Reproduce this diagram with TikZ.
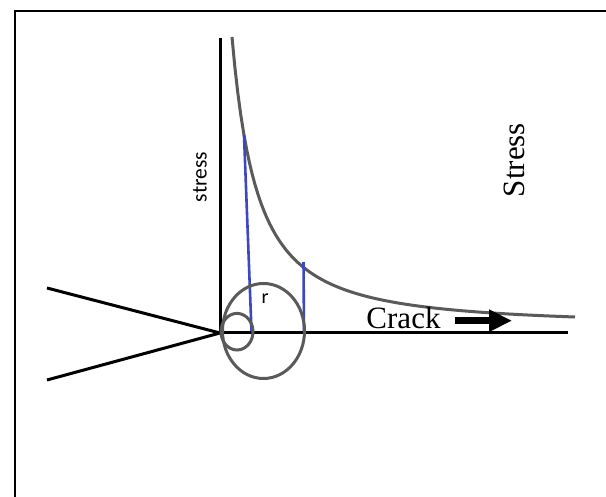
\documentclass[tikz,border=0pt]{standalone}
\usepackage{fontspec}
\usepackage{tikz}
\usetikzlibrary{positioning, arrows.meta, calc}
\setmainfont{Liberation Serif}
\newfontfamily\labelfont{Carlito}
\definecolor{cAxis}  {HTML}{000000}
\definecolor{cCurve} {HTML}{5A5A5A}
\definecolor{cRadius}{HTML}{3E46C2}

\begin{document}
\begin{tikzpicture}[x=1pt, y=-1pt,
    axisline/.style={draw=cAxis, line width=3pt},
    stresscurve/.style={draw=cCurve, line width=3pt},
    zone/.style={draw=cCurve, line width=3pt},
    radius line/.style={draw=cRadius, line width=2.6pt},
    bigtext/.style={font=\fontsize{31}{36}\selectfont, inner sep=0pt},
    smalltext/.style={font=\labelfont\fontsize{21.5}{26}\selectfont, inner sep=0pt}]
  \useasboundingbox (0,0) rectangle (606,497);
  % frame
  \draw[line width=2.5pt] (15,497) -- (15,11) -- (606,11);

  % crack tip and flanks
  \coordinate (tip) at (220,333);
  \coordinate (ytop) at (220,38);
  \coordinate (xend) at (568,333);
  \coordinate (flankU) at (47,288);
  \coordinate (flankL) at (47,380);
  \draw[axisline] (flankU) -- (tip) -- (flankL);
  \draw[axisline] (ytop) -- (tip) -- (xend);

  % stress field
  \draw[stresscurve] plot[domain=232:575, samples=120]
    (\x, {326 - 66.9/(((\x-194.3)/100)^1.5)});

  % radius lines
  \coordinate (rAtop) at (244,135);
  \coordinate (rAfoot) at (251.5,331);
  \coordinate (rBtop) at (303.5,262);
  \coordinate (rBfoot) at (304,331);
  \foreach \r in {A, B}
    \draw[radius line] (r\r top) -- (r\r foot);

  \draw[zone] (263.5,331) ellipse [x radius=41pt, y radius=47.5pt];
  \draw[zone] (237,331.7) ellipse [x radius=16pt, y radius=18.3pt];

  \node[smalltext, rotate=90] (axislab) at (200,177) {stress};
  \node[smalltext, font=\labelfont\fontsize{20}{24}\selectfont] (rlab) at (265,299) {r};
  \node[bigtext, rotate=90] (stresslab) at (514,160) {Stress};
  \node[bigtext, anchor=base] (crack) at (403.5,329) {Crack};

  \coordinate (arrowtail) at (455,320.7);
  \coordinate (arrowtip) at (512,320.7);
  \draw[line width=6.7pt, -{Triangle[length=23pt, width=21pt]}] (arrowtail) -- (arrowtip);
\end{tikzpicture}
\end{document}
